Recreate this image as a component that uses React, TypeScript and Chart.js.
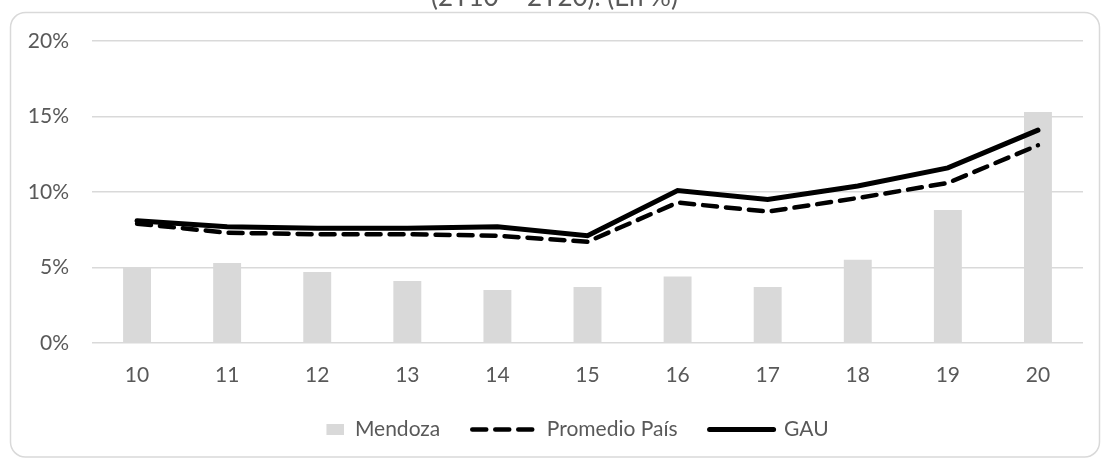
import React, { useEffect, useRef } from "react";
import { Chart, registerables } from "chart.js";

Chart.register(...registerables);

const TITLE = "(2T10 – 2T20). (En %)";
const categories = ["10", "11", "12", "13", "14", "15", "16", "17", "18", "19", "20"];
const mendoza = [5.0, 5.3, 4.7, 4.1, 3.5, 3.7, 4.4, 3.7, 5.5, 8.8, 15.3];
const promedioPais = [7.9, 7.3, 7.2, 7.2, 7.1, 6.7, 9.3, 8.7, 9.6, 10.6, 13.1];
const gau = [8.1, 7.7, 7.6, 7.6, 7.7, 7.1, 10.1, 9.5, 10.4, 11.6, 14.1];
const yTicks = [0, 5, 10, 15, 20];

const FONT = "Lato, 'Open Sans', sans-serif";
const GREY_TEXT = "#595959";
const GRID = "#d9d9d9";
const BAR = "#d9d9d9";
const SWATCH_W = 64;
const OFFSET_TOP = 30;

export default function App() {
  const ref = useRef<HTMLCanvasElement | null>(null);

  useEffect(() => {
    if (!ref.current) return;
    const swatch = document.createElement("canvas");
    swatch.width = SWATCH_W;
    swatch.height = 11;
    const sctx = swatch.getContext("2d");
    if (sctx) {
      sctx.fillStyle = BAR;
      sctx.fillRect(SWATCH_W - 18, 0, 18, 11);
    }

    const borderPlugin = {
      id: "roundBorder",
      beforeDraw(chart: any) {
        const ctx = chart.ctx;
        ctx.save();
        ctx.strokeStyle = GRID;
        ctx.lineWidth = 1.5;
        ctx.beginPath();
        (ctx as any).roundRect(10.5, 12.5 + OFFSET_TOP, 1089, 444.5, 15);
        ctx.stroke();
        ctx.restore();
      },
    };

    const chart = new Chart(ref.current, {
      type: "bar",
      data: {
        labels: categories,
        datasets: [
          {
            type: "bar",
            label: "Mendoza",
            data: mendoza,
            backgroundColor: BAR,
            barPercentage: 0.62,
            categoryPercentage: 0.5,
            order: 3,
          },
          {
            type: "line",
            label: "Promedio País",
            data: promedioPais,
            borderColor: "#000000",
            backgroundColor: "#000000",
            borderWidth: 4.5,
            borderDash: [14, 9],
            borderCapStyle: "round",
            pointRadius: 0,
            tension: 0,
            order: 2,
          },
          {
            type: "line",
            label: "GAU",
            data: gau,
            borderColor: "#000000",
            backgroundColor: "#000000",
            borderWidth: 5,
            borderCapStyle: "round",
            pointRadius: 0,
            tension: 0,
            order: 1,
          },
        ],
      } as any,
      options: {
        responsive: false,
        animation: false,
        layout: { padding: { left: 26, right: 18, bottom: 8, top: 0 } },
        scales: {
          x: {
            grid: { display: false },
            border: { display: false },
            ticks: { color: GREY_TEXT, font: { family: FONT, size: 21 }, padding: 12 },
            afterFit: (scale: any) => {
              scale.height = scale.height - 13;
            },
          },
          y: {
            min: 0,
            max: 20,
            afterBuildTicks: (scale: any) => {
              scale.ticks = yTicks.map((v) => ({ value: v }));
            },
            afterFit: (scale: any) => {
              scale.width = 66;
            },
            grid: { color: GRID, lineWidth: 1.5, drawTicks: false },
            border: { display: false },
            ticks: {
              color: GREY_TEXT,
              font: { family: FONT, size: 21 },
              padding: 23,
              callback: (v: any) => v + "%",
            },
          },
        },
        plugins: {
          title: {
            display: true,
            text: TITLE,
            color: GREY_TEXT,
            font: { family: FONT, size: 26, weight: "normal" },
            padding: { top: 12, bottom: 28 },
          },
          tooltip: { enabled: false },
          legend: {
            position: "bottom",
            labels: {
              usePointStyle: true,
              pointStyleWidth: SWATCH_W,
              boxHeight: 11,
              padding: 32,
              color: GREY_TEXT,
              font: { family: FONT, size: 21 },
              generateLabels: (ch: any) =>
                ch.data.datasets.map((ds: any, i: number) => ({
                  text: ds.label,
                  datasetIndex: i,
                  fillStyle: i === 0 ? BAR : "#000000",
                  strokeStyle: "#000000",
                  lineWidth: i === 0 ? 0 : ds.borderWidth,
                  lineDash: ds.borderDash || [],
                  lineCap: "round",
                  pointStyle: i === 0 ? swatch : "line",
                  hidden: false,
                  fontColor: GREY_TEXT,
                })),
            },
          },
        },
      } as any,
      plugins: [borderPlugin],
    });
    return () => chart.destroy();
  }, []);

  return (
    <canvas
      ref={ref}
      width={1101}
      height={458 + OFFSET_TOP}
      style={{ position: "fixed", left: 0, top: -OFFSET_TOP, width: 1101, height: 458 + OFFSET_TOP }}
    />
  );
}
